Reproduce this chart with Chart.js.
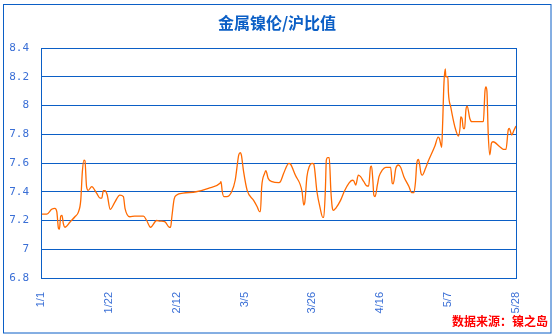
<!DOCTYPE html>
<html>
<head>
<meta charset="utf-8">
<script src="https://cdn.jsdelivr.net/npm/chart.js@4"></script>
<style>
  html, body { margin: 0; padding: 0; background: #fff; }
  #chart { display: block; }
</style>
</head>
<body>
<canvas id="chart" width="553" height="336"></canvas>
<script>
// day offset from 1/1 and the 伦/沪 ratio read at each turning point
const days = [0, 1.8, 3.3, 4.3, 4.9, 5.4, 5.7, 6.1, 6.5, 6.9, 7.4, 9.0, 10.5, 11.6, 12.3, 12.8, 13.3, 13.6, 14.1, 14.6,
  15.7, 17.2, 18.3, 18.8, 19.3, 19.8, 20.5, 21.4, 22.9, 24.4, 25.5, 26.0, 27.5, 29.0, 31.7, 32.7, 33.9, 35.8, 36.8, 38.4,
  39.7, 40.1, 40.5, 41.2, 42.0, 44.0, 48.0, 51.8, 55.4, 55.7, 56.1, 56.6, 57.5, 59.0, 60.1, 61.2, 61.7, 62.0, 62.7, 63.8,
  65.8, 66.9, 67.6, 67.9, 68.3, 69.2, 69.6, 70.3, 71.5, 73.6, 74.1, 75.1, 76.7, 77.2, 78.7, 80.8, 81.3, 81.6, 82.3, 83.0,
  83.9, 84.4, 85.4, 86.4, 87.2, 87.5, 88.0, 88.3, 88.7, 89.2, 89.7, 90.1, 90.5, 91.2, 92.7, 93.8, 95.3, 96.3, 96.8, 97.4,
  98.2, 98.9, 99.9, 100.9, 101.4, 102.0, 102.3, 102.7, 103.0, 103.4, 104.1, 104.6, 105.6, 106.7, 108.2, 108.7, 109.0, 109.8, 110.6, 111.3,
  112.3, 113.9, 114.7, 115.4, 115.9, 116.3, 116.8, 117.1, 117.6, 118.0, 119.0, 119.8, 121.9, 122.9, 123.3, 124.0, 124.3, 124.7, 125.1, 125.3,
  125.9, 126.1, 126.8, 128.1, 129.2, 129.7, 129.9, 130.3, 130.7, 131.1, 131.5, 131.9, 132.7, 133.3, 136.4, 136.9, 137.4, 137.7, 138.0, 138.4,
  138.9, 139.4, 139.9, 142.0, 143.1, 143.9, 144.6, 144.9, 145.7, 146.4, 147.0];
const ratios = [7.245, 7.245, 7.278, 7.285, 7.26, 7.146, 7.14, 7.23, 7.236, 7.18, 7.153, 7.19, 7.226, 7.26, 7.34, 7.54, 7.62, 7.616, 7.435, 7.41,
  7.435, 7.39, 7.355, 7.355, 7.407, 7.407, 7.377, 7.278, 7.33, 7.377, 7.366, 7.285, 7.226, 7.23, 7.23, 7.2, 7.153, 7.2, 7.196, 7.19,
  7.153, 7.153, 7.226, 7.348, 7.377, 7.39, 7.40, 7.424, 7.459, 7.47, 7.40, 7.366, 7.366, 7.40, 7.48, 7.656, 7.672, 7.656, 7.54, 7.41,
  7.34, 7.296, 7.262, 7.262, 7.435, 7.528, 7.546, 7.493, 7.47, 7.463, 7.47, 7.528, 7.598, 7.593, 7.516, 7.40, 7.308, 7.32, 7.505, 7.574,
  7.598, 7.593, 7.40, 7.285, 7.222, 7.222, 7.41, 7.62, 7.637, 7.637, 7.41, 7.296, 7.27, 7.285, 7.34, 7.40, 7.46, 7.48, 7.475, 7.447,
  7.516, 7.505, 7.47, 7.44, 7.44, 7.574, 7.578, 7.48, 7.377, 7.366, 7.447, 7.505, 7.55, 7.57, 7.57, 7.459, 7.455, 7.563, 7.586, 7.57,
  7.505, 7.435, 7.394, 7.394, 7.47, 7.598, 7.625, 7.6, 7.528, 7.516, 7.563, 7.61, 7.718, 7.78, 7.77, 7.709, 7.876, 8.154, 8.254, 8.2,
  8.2, 8.085, 7.99, 7.85, 7.788, 7.85, 7.92, 7.91, 7.84, 7.84, 7.97, 7.996, 7.91, 7.888, 7.888, 7.89, 8.10, 8.13, 8.1, 7.806,
  7.656, 7.737, 7.748, 7.713, 7.695, 7.695, 7.83, 7.84, 7.795, 7.83, 7.857];

const dateLabels = ['1/1', '1/22', '2/12', '3/5', '3/26', '4/16', '5/7', '5/28'];
const yLabels = ['6.8', '7', '7.2', '7.4', '7.6', '7.8', '8', '8.2', '8.4'];

const BLUE = '#0b5fc6';
const TICK_BLUE = '#3a6fd6';

// outer frame, plot frame, title and source note
const framePlugin = {
  id: 'frame',
  afterDraw(chart) {
    const ctx = chart.ctx;
    const a = chart.chartArea;
    ctx.save();
    ctx.strokeStyle = BLUE;
    ctx.lineWidth = 1;
    ctx.strokeRect(3.5, 4.5, 547.5, 328.5);
    ctx.strokeRect(Math.round(a.left) + 0.5, Math.round(a.top) + 0.5,
      Math.round(a.right - a.left), Math.round(a.bottom - a.top));

    ctx.fillStyle = BLUE;
    ctx.font = 'bold 16px "Noto Sans CJK SC"';
    ctx.textAlign = 'center';
    ctx.textBaseline = 'middle';
    ctx.fillText('金属镍伦/沪比值', 277, 23);

    ctx.fillStyle = '#ff0000';
    ctx.font = 'bold 12px "Noto Sans CJK SC"';
    ctx.textAlign = 'right';
    ctx.fillText('数据来源：镍之岛', 548, 321);
    ctx.restore();
  }
};

new Chart(document.getElementById('chart'), {
  type: 'line',
  data: {
    datasets: [{
      data: days.map((d, i) => ({ x: d, y: ratios[i] })),
      borderColor: '#ff6a00',
      borderWidth: 1.3,
      pointRadius: 0,
      fill: false,
      cubicInterpolationMode: 'monotone'
    }]
  },
  options: {
    responsive: false,
    animation: false,
    layout: { padding: { left: 0, right: 37, top: 48, bottom: 0 } },
    plugins: { legend: { display: false }, tooltip: { enabled: false } },
    scales: {
      x: {
        type: 'linear',
        min: 0,
        max: 147,
        afterFit: s => { s.height = 58; },
        ticks: {
          stepSize: 21,
          autoSkip: false,
          minRotation: 90,
          maxRotation: 90,
          padding: 6,
          color: TICK_BLUE,
          font: { family: 'Liberation Sans', size: 11 },
          callback: v => dateLabels[Math.round(v / 21)]
        },
        grid: { display: false },
        border: { display: true, color: BLUE, width: 1 }
      },
      y: {
        min: 6.8,
        max: 8.4,
        afterFit: s => { s.width = 41; },
        ticks: {
          stepSize: 0.2,
          padding: 12,
          color: TICK_BLUE,
          font: { family: 'DejaVu Sans Mono', size: 11 },
          callback: v => yLabels[Math.round((v - 6.8) / 0.2)]
        },
        grid: { color: BLUE, lineWidth: 1, drawTicks: false },
        border: { display: true, color: BLUE, width: 1 }
      }
    }
  },
  plugins: [framePlugin]
});
</script>
</body>
</html>
